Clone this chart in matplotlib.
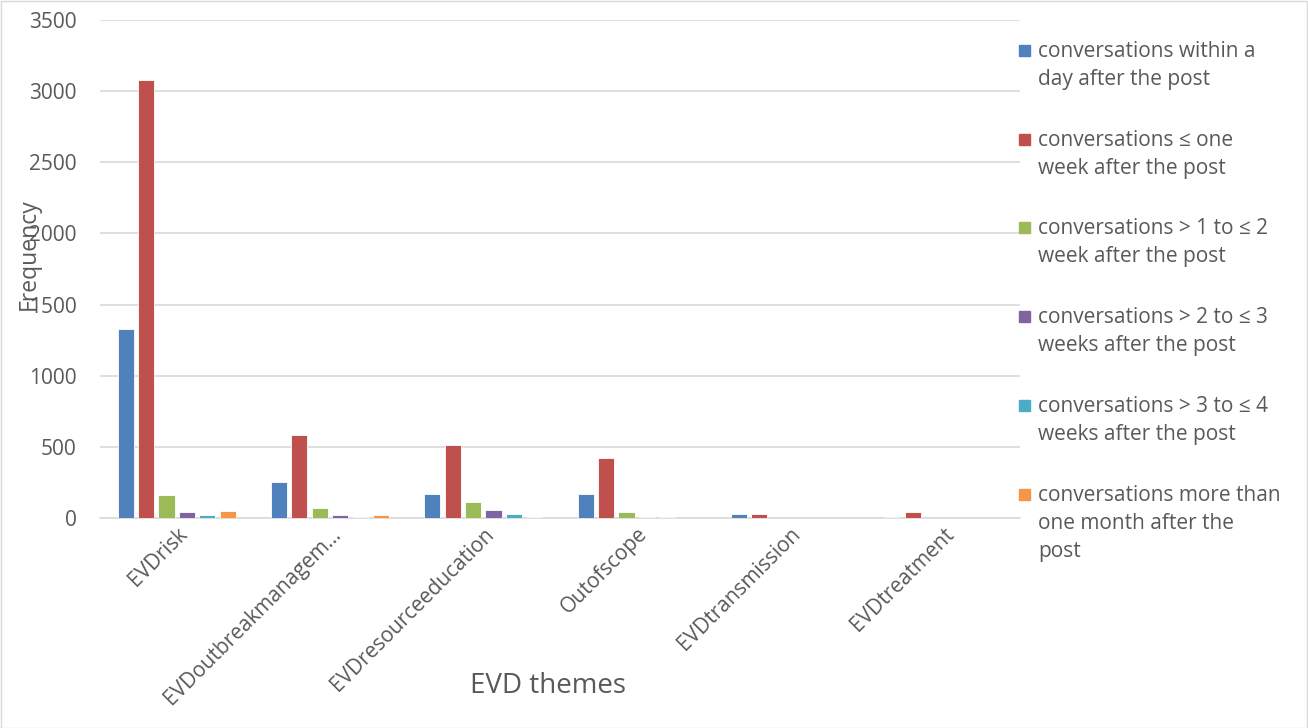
import matplotlib
matplotlib.use("Agg")
import matplotlib.pyplot as plt
from matplotlib.patches import Rectangle
import numpy as np

plt.rcParams['font.family'] = ['Open Sans', 'DejaVu Sans']

categories = ["EVDrisk", "EVDoutbreakmanagem\u2026", "EVDresourceeducation",
              "Outofscope", "EVDtransmission", "EVDtreatment"]
series_labels = [
    "conversations within a\nday after the post",
    "conversations \u2264 one\nweek after the post",
    "conversations > 1 to \u2264 2\nweek after the post",
    "conversations > 2 to \u2264 3\nweeks after the post",
    "conversations > 3 to \u2264 4\nweeks after the post",
    "conversations more than\none month after the\npost",
]
within_day = [1330, 253, 170, 170, 30, 6]
le_one_week = [3080, 586, 510, 420, 31, 39]
one_to_two_weeks = [160, 70, 112, 44, 2, 0]
two_to_three_weeks = [40, 23, 53, 8, 0, 0]
three_to_four_weeks = [19, 5, 25, 10, 0, 0]
more_than_month = [51, 21, 10, 3, 0, 2]
series = [within_day, le_one_week, one_to_two_weeks, two_to_three_weeks,
          three_to_four_weeks, more_than_month]
colors = ["#4F81BD", "#C0504D", "#9BBB59", "#8064A2", "#4BACC6", "#F79646"]
yticks = [0, 500, 1000, 1500, 2000, 2500, 3000, 3500]

W, H = 1308, 728
fig = plt.figure(figsize=(W / 100, H / 100), dpi=100)
ax = fig.add_axes([100 / W, 1 - 518 / H, 920 / W, 498 / H])

x = np.arange(len(categories))
step = 0.133
bw = 0.105
for i, (vals, c) in enumerate(zip(series, colors)):
    ax.bar(x + (i - 2.5) * step, vals, width=bw, color=c, edgecolor='white',
           linewidth=0.6, zorder=3)

ax.set_xlim(-0.5, len(categories) - 0.5)
ax.set_ylim(0, 3500)
ax.set_yticks(yticks)
ax.set_yticklabels([str(v) for v in yticks], fontsize=15, color='#595959')
ax.yaxis.grid(True, color='#D9D9D9', linewidth=1.2, zorder=0)
ax.set_axisbelow(True)
for s in ['left', 'right', 'top']:
    ax.spines[s].set_visible(False)
ax.spines['bottom'].set_color('#D9D9D9')
ax.spines['bottom'].set_linewidth(1.2)
ax.tick_params(axis='both', length=0)
ax.tick_params(axis='y', pad=17)
ax.set_xticks(x)
ax.set_xticklabels(categories, rotation=45, ha='right', rotation_mode='anchor',
                   fontsize=15, color='#595959')
ax.tick_params(axis='x', pad=4)

ax.set_ylabel("Frequency", fontsize=16.5, color='#595959')
ax.yaxis.set_label_coords(-0.064, 0.53)
ax.set_xlabel("EVD themes", fontsize=20, color='#595959')
ax.xaxis.set_label_coords(0.487, -0.309)

# legend drawn manually (handles aligned with first text line)
starts = [50, 139, 227, 316, 405, 494]
for top, lab, c in zip(starts, series_labels, colors):
    fig.patches.append(Rectangle((1019 / W, 1 - (top + 6) / H), 11 / W, 11 / H,
                                 transform=fig.transFigure, color=c))
    fig.text(1038 / W, 1 - (top - 9) / H, lab, fontsize=15, color='#595959',
             va='top', ha='left', linespacing=1.45)

fig.patches.append(Rectangle((0.5 / W, 0.5 / H), 1 - 1.5 / W, 1 - 1.5 / H,
                             transform=fig.transFigure, fill=False,
                             edgecolor='#D9D9D9', linewidth=1))

fig.savefig("out.png", dpi=100)
